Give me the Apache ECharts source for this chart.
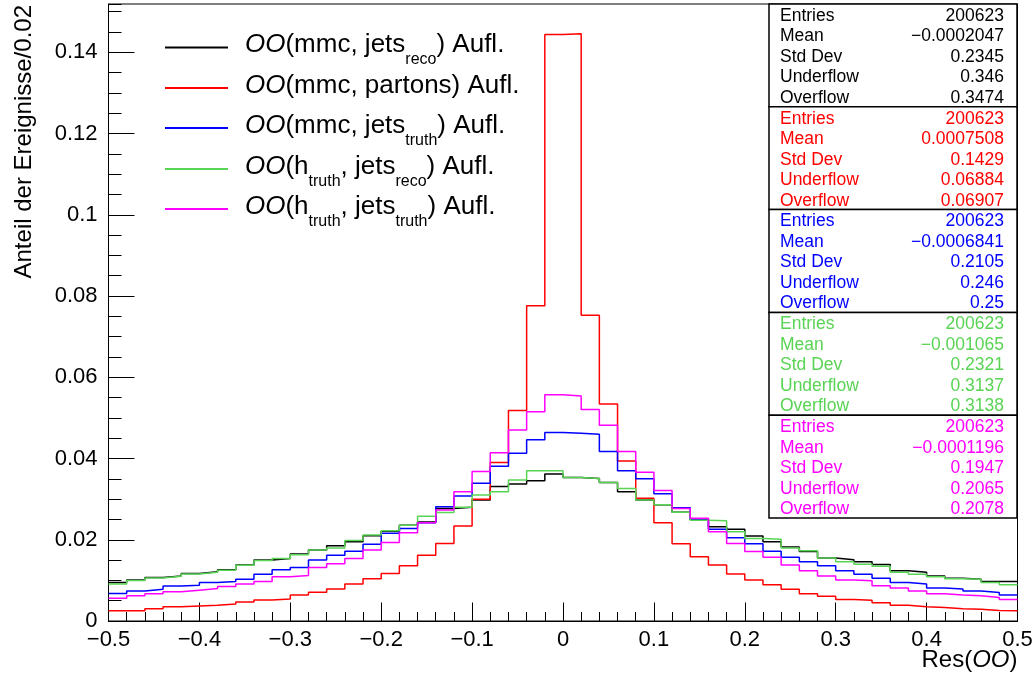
<!DOCTYPE html>
<html>
<head>
<meta charset="utf-8">
<script src="https://cdn.jsdelivr.net/npm/echarts@6/dist/echarts.min.js"></script>
<style>
  html, body { margin: 0; padding: 0; background: #ffffff; }
  #chart { width: 1032px; height: 679px; }
</style>
</head>
<body>
<div id="chart"></div>
<script>
const FONT = '"Liberation Sans", Arial, Helvetica, sans-serif';

// Histogram binning: 50 bins of width 0.02 on [-0.5, 0.5]
const nBins = 50;
const xLow = -0.5;
const xHigh = 0.5;

// Bin contents (fraction of events per bin)
const hMmcJetsReco = [
  0.0095, 0.0101, 0.0107, 0.0111, 0.0117, 0.0121, 0.0126, 0.0138, 0.0150, 0.0154,
  0.0165, 0.0175, 0.0185, 0.0195, 0.0210, 0.0221, 0.0236, 0.0244, 0.0277, 0.0280,
  0.0298, 0.0331, 0.0337, 0.0345, 0.0362, 0.0353, 0.0351, 0.0341, 0.0318, 0.0298,
  0.0286, 0.0268, 0.0250, 0.0232, 0.0226, 0.0209, 0.0195, 0.0182, 0.0171, 0.0155,
  0.0151, 0.0146, 0.0139, 0.0124, 0.0120, 0.0111, 0.0105, 0.0103, 0.0097, 0.0097
];
const hMmcPartons = [
  0.0025, 0.0025, 0.0030, 0.0035, 0.0037, 0.0039, 0.0042, 0.0047, 0.0052, 0.0054,
  0.0064, 0.0071, 0.0079, 0.0091, 0.0104, 0.0117, 0.0136, 0.0162, 0.0191, 0.0234,
  0.0300, 0.0390, 0.0518, 0.0776, 0.1444, 0.1446, 0.0753, 0.0534, 0.0394, 0.0302,
  0.0242, 0.0190, 0.0158, 0.0138, 0.0116, 0.0101, 0.0089, 0.0078, 0.0067, 0.0061,
  0.0053, 0.0051, 0.0045, 0.0039, 0.0035, 0.0033, 0.0030, 0.0029, 0.0026, 0.0025
];
const hMmcJetsTruth = [
  0.0068, 0.0074, 0.0078, 0.0086, 0.0088, 0.0095, 0.0097, 0.0103, 0.0115, 0.0126,
  0.0132, 0.0150, 0.0162, 0.0172, 0.0189, 0.0216, 0.0228, 0.0242, 0.0281, 0.0308,
  0.0339, 0.0381, 0.0413, 0.0446, 0.0464, 0.0462, 0.0460, 0.0417, 0.0370, 0.0350,
  0.0313, 0.0279, 0.0250, 0.0226, 0.0205, 0.0190, 0.0172, 0.0157, 0.0146, 0.0136,
  0.0124, 0.0115, 0.0105, 0.0095, 0.0091, 0.0081, 0.0079, 0.0074, 0.0070, 0.0064
];
const hTruthJetsReco = [
  0.0091, 0.0100, 0.0106, 0.0110, 0.0116, 0.0120, 0.0125, 0.0137, 0.0149, 0.0154,
  0.0163, 0.0175, 0.0180, 0.0198, 0.0212, 0.0222, 0.0236, 0.0258, 0.0267, 0.0280,
  0.0310, 0.0318, 0.0347, 0.0370, 0.0370, 0.0353, 0.0351, 0.0341, 0.0326, 0.0298,
  0.0286, 0.0268, 0.0248, 0.0247, 0.0220, 0.0203, 0.0201, 0.0180, 0.0173, 0.0155,
  0.0146, 0.0140, 0.0135, 0.0120, 0.0115, 0.0109, 0.0104, 0.0103, 0.0095, 0.0089
];
const hTruthJetsTruth = [
  0.0056, 0.0062, 0.0067, 0.0072, 0.0076, 0.0080, 0.0085, 0.0091, 0.0097, 0.0109,
  0.0112, 0.0132, 0.0141, 0.0154, 0.0175, 0.0193, 0.0217, 0.0242, 0.0273, 0.0318,
  0.0368, 0.0414, 0.0470, 0.0515, 0.0557, 0.0554, 0.0521, 0.0482, 0.0417, 0.0366,
  0.0321, 0.0277, 0.0253, 0.0220, 0.0191, 0.0171, 0.0157, 0.0138, 0.0124, 0.0111,
  0.0101, 0.0099, 0.0087, 0.0081, 0.0074, 0.0067, 0.0064, 0.0062, 0.0058, 0.0053
];

const seriesNames = [
  'OO(mmc, jets_reco) Aufl.',
  'OO(mmc, partons) Aufl.',
  'OO(mmc, jets_truth) Aufl.',
  'OO(h_truth, jets_reco) Aufl.',
  'OO(h_truth, jets_truth) Aufl.'
];
const legendLabels = [
  '{oo|OO}{m|(mmc, jets}{s|reco}{m|) Aufl.}',
  '{oo|OO}{m|(mmc, partons) Aufl.}',
  '{oo|OO}{m|(mmc, jets}{s|truth}{m|) Aufl.}',
  '{oo|OO}{m|(h}{s|truth}{m|, jets}{s|reco}{m|) Aufl.}',
  '{oo|OO}{m|(h}{s|truth}{m|, jets}{s|truth}{m|) Aufl.}'
];
const seriesColors = ['#000000', '#ff0000', '#0000ff', '#59d454', '#ff00ff'];
const histograms = [hMmcJetsReco, hMmcPartons, hMmcJetsTruth, hTruthJetsReco, hTruthJetsTruth];

// Statistics boxes
const statLabels = ['Entries', 'Mean', 'Std Dev', 'Underflow', 'Overflow'];
const statValues = [
  ['200623', '\u22120.0002047', '0.2345', '0.346', '0.3474'],
  ['200623', '0.0007508', '0.1429', '0.06884', '0.06907'],
  ['200623', '\u22120.0006841', '0.2105', '0.246', '0.25'],
  ['200623', '\u22120.001065', '0.2321', '0.3137', '0.3138'],
  ['200623', '\u22120.0001196', '0.1947', '0.2065', '0.2078']
];

const yTop = 0.1519;
const xTitle = 'Res({i|OO})';
const yTitle = 'Anteil der Ereignisse/0.02';

// Step outline points: each bin's low edge, then the upper edge of the last bin
function stepPoints(h) {
  const w = (xHigh - xLow) / nBins;
  const pts = h.map((v, i) => [xLow + i * w, v]);
  pts.push([xHigh, h[h.length - 1]]);
  return pts;
}

const fmtX = v => String(+v.toFixed(2)).replace('-', '\u2212');
const fmtY = v => String(+v.toFixed(3));

// Legend text: italic OO, regular text, subscripts pushed down via top padding
const legendRich = {
  oo: { fontFamily: FONT, fontStyle: 'italic', fontSize: 26, lineHeight: 26, padding: [0, 0, 5, 12], verticalAlign: 'middle', color: '#000' },
  m:  { fontFamily: FONT, fontSize: 26, lineHeight: 26, padding: [0, 0, 5, 0], verticalAlign: 'middle', color: '#000' },
  s:  { fontFamily: FONT, fontSize: 16, lineHeight: 16, padding: [25, 0, 0, 0], verticalAlign: 'middle', color: '#000' }
};
const legendTops = [27, 72.5, 107.5, 148.5, 188.5];

const graphics = [];
const boxTop = 4, boxH = 102.8, boxLeft = 769, boxW = 248;
statValues.forEach((vals, k) => {
  const top = boxTop + k * boxH;
  graphics.push({
    type: 'rect', z: 100,
    shape: { x: boxLeft, y: top, width: boxW, height: boxH },
    style: { fill: '#ffffff', stroke: '#000000', lineWidth: 1.5 }
  });
  statLabels.forEach((lab, j) => {
    const y = top + 12 + 20.5 * j;
    graphics.push({
      type: 'text', z: 101, x: 780, y: y,
      style: { text: lab, fill: seriesColors[k], font: '17.5px ' + FONT, align: 'left', verticalAlign: 'middle' }
    });
    graphics.push({
      type: 'text', z: 101, x: 1004, y: y,
      style: { text: vals[j], fill: seriesColors[k], font: '17.5px ' + FONT, align: 'right', verticalAlign: 'middle' }
    });
  });
});

const chart = echarts.init(document.getElementById('chart'), null, { renderer: 'canvas' });
chart.setOption({
  animation: false,
  backgroundColor: '#ffffff',
  textStyle: { fontFamily: FONT },
  grid: {
    left: 108.5, right: 14.5, top: 4, bottom: 58,
    containLabel: false, outerBoundsMode: 'none',
    show: true, borderColor: '#000', borderWidth: 1, backgroundColor: 'transparent'
  },
  xAxis: [
    {
      type: 'value', min: xLow, max: xHigh, interval: 0.1, position: 'bottom',
      axisLine: { show: true, onZero: false, lineStyle: { color: '#000', width: 1 } },
      axisTick: { show: true, inside: true, length: 18.5, lineStyle: { color: '#000', width: 1 } },
      axisLabel: { show: true, formatter: fmtX, color: '#000', fontFamily: FONT, fontSize: 22, margin: 8 },
      splitLine: { show: false },
      name: xTitle, nameLocation: 'end', nameGap: 0, nameMoveOverlap: false,
      nameTextStyle: {
        fontFamily: FONT, fontSize: 24, color: '#000', align: 'right', verticalAlign: 'top',
        padding: [27, 0, 0, 0],
        rich: { i: { fontFamily: FONT, fontSize: 24, fontStyle: 'italic', color: '#000' } }
      }
    },
    {
      type: 'value', min: xLow, max: xHigh, interval: 0.02, position: 'bottom',
      axisLine: { show: false, onZero: false },
      axisTick: { show: true, inside: true, length: 9, lineStyle: { color: '#000', width: 1 } },
      axisLabel: { show: false },
      splitLine: { show: false }
    }
  ],
  yAxis: [
    {
      type: 'value', min: 0, max: yTop, interval: 0.02, position: 'left',
      axisLine: { show: true, onZero: false, lineStyle: { color: '#000', width: 1 } },
      axisTick: { show: true, inside: true, length: 26, lineStyle: { color: '#000', width: 1 } },
      axisLabel: { show: true, formatter: fmtY, color: '#000', fontFamily: FONT, fontSize: 22, margin: 11, showMaxLabel: false },
      splitLine: { show: false },
      name: yTitle, nameLocation: 'end', nameRotate: 90, nameGap: -1, nameMoveOverlap: false,
      nameTextStyle: {
        fontFamily: FONT, fontSize: 24, color: '#000', align: 'right', verticalAlign: 'bottom',
        padding: [0, 0, 72, 0]
      }
    },
    {
      type: 'value', min: 0, max: yTop, interval: 0.005, position: 'left',
      axisLine: { show: false, onZero: false },
      axisTick: { show: true, inside: true, length: 13, lineStyle: { color: '#000', width: 1 } },
      axisLabel: { show: false },
      splitLine: { show: false }
    }
  ],
  legend: seriesNames.map((name, k) => ({
    data: [name], left: 165, top: legendTops[k], padding: 0,
    icon: 'rect', itemWidth: 63, itemHeight: 2, selectedMode: false,
    formatter: () => legendLabels[k],
    textStyle: { fontFamily: FONT, color: '#000', rich: legendRich }
  })),
  series: histograms.map((h, k) => ({
    name: seriesNames[k],
    type: 'line', step: 'end',
    xAxisIndex: 0, yAxisIndex: 0,
    data: stepPoints(h),
    showSymbol: false, silent: true,
    itemStyle: { color: seriesColors[k] },
    lineStyle: { color: seriesColors[k], width: 1.5 },
    z: 2 + k
  })),
  graphic: graphics
});
</script>
</body>
</html>
